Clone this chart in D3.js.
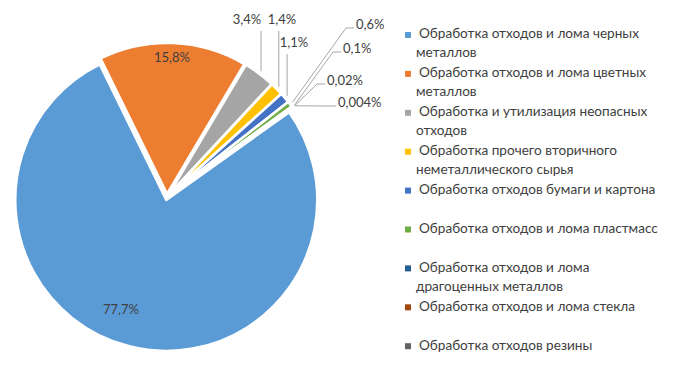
<!DOCTYPE html>
<html>
<head>
<meta charset="utf-8">
<script src="https://cdn.jsdelivr.net/npm/d3@7/dist/d3.min.js"></script>
<style>
  body { margin: 0; background: #fff; }
  text { font-family: Lato, "Open Sans", sans-serif; fill: #404040; }
</style>
</head>
<body>
<svg id="chart"></svg>
<script>
const width = 682;
const height = 368;

// data
const categories = [
    'Обработка отходов и лома черных\nметаллов',
    'Обработка отходов и лома цветных\nметаллов',
    'Обработка и утилизация неопасных\nотходов',
    'Обработка прочего вторичного\nнеметаллического сырья',
    'Обработка отходов бумаги и картона',
    'Обработка отходов и лома пластмасс',
    'Обработка отходов и лома\nдрагоценных металлов',
    'Обработка отходов и лома стекла',
    'Обработка отходов резины'
];
const shares = [77.7, 15.8, 3.4, 1.4, 1.1, 0.6, 0.1, 0.02, 0.004];
const shareLabels = ['77,7%', '15,8%', '3,4%', '1,4%', '1,1%', '0,6%', '0,1%', '0,02%', '0,004%'];
const colors = ['#5B9BD5', '#ED7D31', '#A5A5A5', '#FFC000', '#4472C4', '#70AD47', '#255E91', '#9E480E', '#636363'];

// label layout (where Excel put the data labels)
const labelLayout = [
    {kind: 'in', x: 121, y: 311},
    {kind: 'in', x: 172, y: 59},
    {kind: 'up', x: 247, y: 21},
    {kind: 'up', x: 282, y: 21},
    {kind: 'up', x: 294, y: 44},
    {kind: 'hook', x: 356, y: 29},
    {kind: 'hook', x: 343, y: 53},
    {kind: 'hook', x: 327, y: 85},
    {kind: 'hook', x: 338, y: 107}
];

const cx = 167, cy = 197;
const radius = 151;
const explode = 3;
const startDeg = 54.5;

const svg = d3.select('#chart')
    .attr('width', width)
    .attr('height', height);

svg.append('rect').attr('width', width).attr('height', height).attr('fill', '#fff');

const rows = shares.map((v, i) => ({value: v, i: i}));

const pie = d3.pie()
    .value(d => d.value)
    .sort(null)
    .startAngle(startDeg * Math.PI / 180)
    .endAngle(startDeg * Math.PI / 180 + 2 * Math.PI);

const arc = d3.arc().innerRadius(0).outerRadius(radius);
const arcs = pie(rows);

const mid = d => (d.startAngle + d.endAngle) / 2;
const polar = (a, r) => [cx + r * Math.sin(a), cy - r * Math.cos(a)];

const pieG = svg.append('g');

pieG.selectAll('path').data(arcs).enter().append('path')
    .attr('d', arc)
    .attr('transform', d => {
        const p = polar(mid(d), explode);
        return `translate(${p[0]},${p[1]})`;
    })
    .attr('fill', d => colors[d.data.i])
    .attr('stroke', '#fff')
    .attr('stroke-width', 2.5)
    .attr('stroke-linejoin', 'round');

// leader lines
const leaderR = radius + explode + 3;
const lines = svg.append('g');
arcs.forEach(d => {
    const l = labelLayout[d.data.i];
    const p = polar(mid(d), leaderR);
    let pts = null;
    if (l.kind === 'up') {
        pts = [p, [p[0], l.y + 10]];
    } else if (l.kind === 'hook') {
        pts = [p, [l.x - 10, l.y - 1], [l.x - 2, l.y - 1]];
    }
    if (pts) {
        lines.append('path')
            .attr('d', d3.line()(pts))
            .attr('fill', 'none')
            .attr('stroke', '#A6A6A6')
            .attr('stroke-width', 1);
    }
});

// data labels
svg.append('g').selectAll('text').data(arcs).enter().append('text')
    .attr('x', d => labelLayout[d.data.i].x)
    .attr('y', d => labelLayout[d.data.i].y)
    .attr('text-anchor', d => labelLayout[d.data.i].kind === 'hook' ? 'start' : 'middle')
    .attr('dominant-baseline', d => labelLayout[d.data.i].kind === 'hook' ? 'auto' : 'middle')
    .style('font-size', '13px')
    .text(d => shareLabels[d.data.i]);

// legend
const legendY = d3.scaleLinear().domain([0, 1]).range([35, 73.9]);
const legend = svg.append('g');
categories.forEach((c, i) => {
    const y = legendY(i);
    legend.append('rect')
        .attr('x', 405).attr('y', y - 3)
        .attr('width', 6).attr('height', 6)
        .attr('fill', colors[i]);
    c.split('\n').forEach((line, k) => {
        legend.append('text')
            .attr('x', k === 0 ? 419 : 416)
            .attr('y', y + k * 19)
            .attr('dominant-baseline', 'middle')
            .style('font-size', '13.6px')
            .text(line);
    });
});
</script>
</body>
</html>
